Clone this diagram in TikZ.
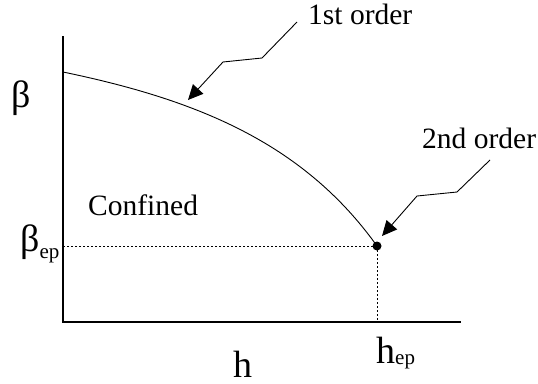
\documentclass[tikz,border=0pt]{standalone}
\usepackage{fontspec}
\setmainfont{Liberation Serif}
\usetikzlibrary{arrows.meta,positioning}
\tikzset{
  ax/.style   = {line width=1.1pt},
  crv/.style  = {line width=0.9pt},
  dt/.style   = {line width=0.8pt, dash pattern=on 2pt off 2pt},
  ar/.style   = {-{Triangle[length=15pt,width=14pt]}, line width=0.9pt},
  lbl/.style  = {font=\fontsize{29.5}{31}\selectfont, inner sep=0pt, anchor=base west},
  big/.style  = {font=\fontsize{38}{40}\selectfont, inner sep=0pt, anchor=base west},
  pt/.style   = {circle, fill, inner sep=0pt, minimum size=9pt},
}
\newcommand{\lowsub}[2]{\raisebox{#1}{\fontsize{21}{23}\selectfont #2}}

\begin{document}
\begin{tikzpicture}[x=1pt,y=-1pt]
  \useasboundingbox (0,0) rectangle (538,383);
  % axes
  \coordinate (ytop) at (63,36);
  \coordinate (org)  at (63,322);
  \coordinate (xend) at (461,322);
  \draw[ax] (ytop) -- (org) -- (xend);
  % boundary curve and end point
  \coordinate (b0) at (63,72);
  \node[pt] (ep) at (377,246) {};
  \draw[crv] (b0) .. controls (193,99) and (302,141) .. (ep.center);
  \draw[dt] (ep.center) -- (ep.center -| org);
  \draw[dt] (ep.center) -- (ep.center |- org);
  % labels
  \node[big] (beta)   at (11,107)  {β};
  \node[big] (betaep) at (20,251)  {β\lowsub{-7pt}{ep}};
  \node[big] (h)      at (233,377) {h};
  \node[big] (hep)    at (376,363) {h\lowsub{-1pt}{ep}};
  \node[lbl] (conf)   at (88,215)  {Confined};
  \node[lbl] (first)  at (308,24)  {1st order};
  \node[lbl] (second) at (422,148) {2nd order};
  % pointers
  \coordinate (s1) at (297,22);
  \coordinate (k1) at (262,58);
  \coordinate (m1) at (223,62);
  \coordinate (t1) at (188,100);
  \draw[ar] (s1) -- (k1) -- (m1) -- (t1);
  \coordinate (s2) at (490,160);
  \coordinate (k2) at (457,192);
  \coordinate (m2) at (417,196);
  \coordinate (t2) at (382,236);
  \draw[ar] (s2) -- (k2) -- (m2) -- (t2);
\end{tikzpicture}
\end{document}
